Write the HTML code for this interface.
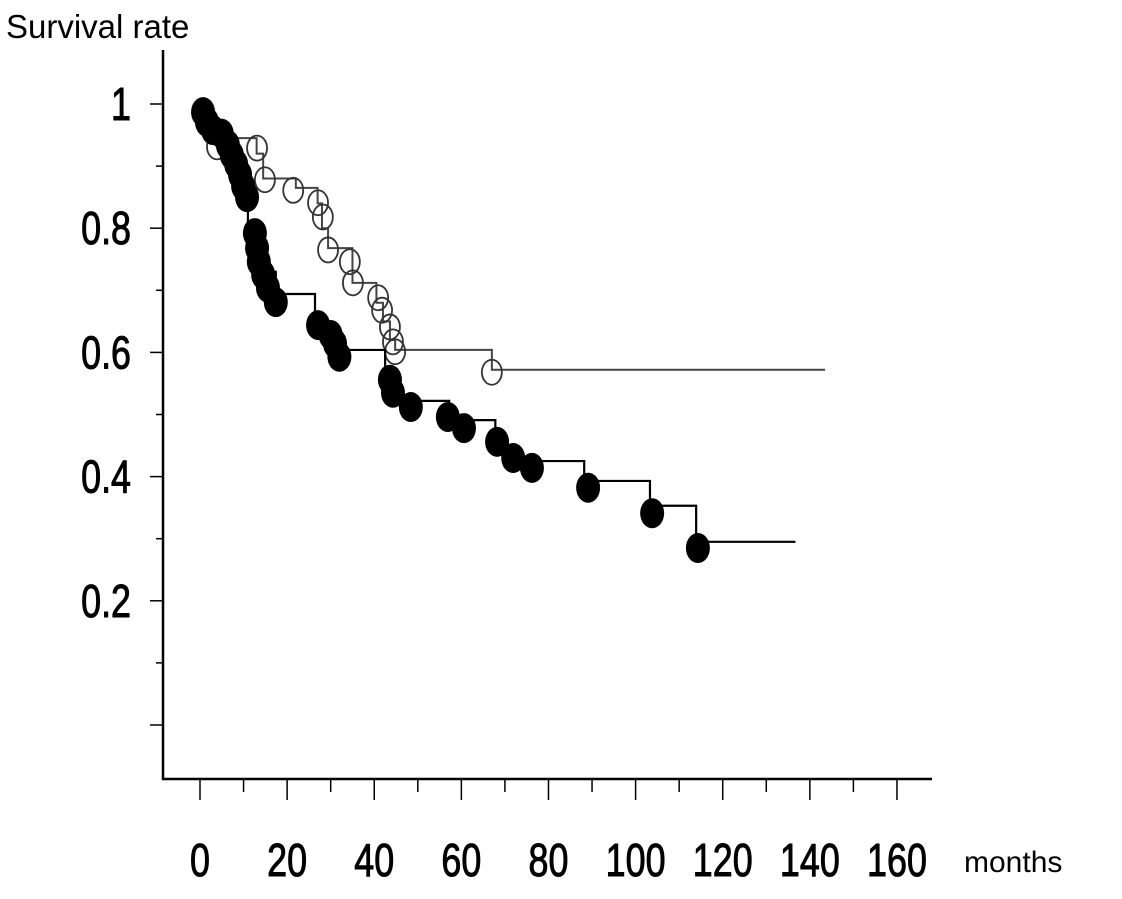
<!DOCTYPE html>
<html><head><meta charset="utf-8"><style>
html,body{margin:0;padding:0;background:#fff;}
svg{display:block;font-family:"Liberation Sans",sans-serif;}
</style></head><body>
<svg id="chart" width="1122" height="899" viewBox="0 0 1122 899" xmlns="http://www.w3.org/2000/svg">
<text x="6" y="38" font-size="33" fill="#000">Survival rate</text>
<text x="964" y="872" font-size="30" fill="#000">months</text>
<g id="axes"></g>
<g id="series"></g>
</svg>
<script>
const xTicks = [0,20,40,60,80,100,120,140,160];
const yTicks = [1,0.8,0.6,0.4,0.2];
const yTickLabels = ["1","0.8","0.6","0.4","0.2"];
// Filled series (step drops)
const fillStepT = [1,4,7,9,11,14,17.4,26.4,32,42.5,46,57.2,67.8,72,88.2,103.3,113.9];
const fillStepS = [0.975,0.95,0.91,0.87,0.8,0.73,0.694,0.63,0.604,0.55,0.522,0.491,0.45,0.425,0.393,0.353,0.295];
const fillEnd = 136.7;
const fillMarkT = [0.7,1.6,3,5,6.4,7.3,8.3,9.2,9.9,10.8,12.6,13.1,13.5,14.5,15.6,17.4,27.1,30,31,32,43.6,44.3,48.4,56.9,60.6,68.2,71.9,76.2,89.1,103.8,114.3];
const fillMarkS = [0.987,0.971,0.958,0.952,0.934,0.918,0.903,0.886,0.868,0.85,0.792,0.768,0.746,0.725,0.704,0.681,0.644,0.628,0.614,0.593,0.556,0.535,0.512,0.496,0.478,0.456,0.43,0.414,0.382,0.341,0.285];
// Open series
const openStepT = [2,4,13,14.5,22,27,28,29.4,35,40.5,42,43.6,44.8,67];
const openStepS = [0.97,0.945,0.92,0.88,0.865,0.84,0.8,0.768,0.712,0.68,0.65,0.62,0.604,0.572];
const openEnd = 143.5;
const openMarkT = [3.9,13.1,14.9,21.4,27.1,28.2,29.4,34.4,35.1,40.9,41.8,43.6,44.3,44.8,67];
const openMarkS = [0.931,0.929,0.878,0.861,0.841,0.818,0.765,0.746,0.712,0.688,0.668,0.641,0.617,0.601,0.568];

const NS="http://www.w3.org/2000/svg";
const X = t => 200 + 4.356*t;
const Y = s => 725 - 621*s;
function mk(tag, attrs, parent){const e=document.createElementNS(NS,tag);for(const k in attrs)e.setAttribute(k,attrs[k]);parent.appendChild(e);return e;}
const axes=document.getElementById('axes'), ser=document.getElementById('series');

let e=mk('line',{x1:163,y1:50,x2:163,y2:780,stroke:'#000','stroke-width':2.5},axes);


e=mk('line',{x1:162,y1:779,x2:932,y2:779,stroke:'#000','stroke-width':2.5},axes);



for(let v=0; v<=160; v+=10){
  const major = v%20===0;
  e=mk('line',{x1:X(v),y1:779,x2:X(v),y2:major?800:792,stroke:'#000','stroke-width':1.5},axes);
  
  
}
xTicks.forEach(v=>{
  const g=mk('g',{transform:`translate(${X(v)},876) scale(0.78,1)`},axes);
  e=mk('text',{x:0,y:0,'text-anchor':'middle','font-size':46,fill:'#000',stroke:'#000','stroke-width':1},g);
  e.textContent=String(v);
  
  
});
for(let i=0;i<=10;i++){
  const v=i/10, major=i%2===0;
  e=mk('line',{x1:major?150:156,y1:Y(v),x2:163,y2:Y(v),stroke:'#000','stroke-width':1.5},axes);
  
  
}
yTicks.forEach((v,i)=>{
  const g=mk('g',{transform:`translate(131,${Y(v)+16}) scale(0.78,1)`},axes);
  e=mk('text',{x:0,y:0,'text-anchor':'end','font-size':46,fill:'#000',stroke:'#000','stroke-width':1},g);
  e.textContent=yTickLabels[i];
  
  
});

function stepPath(T,S,end){
  let d=`M${X(0)},${Y(1)}`, s=1;
  T.forEach((t,i)=>{d+=` L${X(t)},${Y(s)} L${X(t)},${Y(S[i])}`; s=S[i];});
  d+=` L${X(end)},${Y(s)}`;
  return d;
}
e=mk('path',{d:stepPath(openStepT,openStepS,openEnd),fill:'none',stroke:'#444','stroke-width':2},ser);


openMarkT.forEach((t,i)=>{
  e=mk('ellipse',{cx:X(t),cy:Y(openMarkS[i]),rx:10,ry:12.5,fill:'none',stroke:'#333','stroke-width':1.8},ser);
  
  
});
e=mk('path',{d:stepPath(fillStepT,fillStepS,fillEnd),fill:'none',stroke:'#000','stroke-width':2.2},ser);


fillMarkT.forEach((t,i)=>{
  e=mk('ellipse',{cx:X(t),cy:Y(fillMarkS[i]),rx:12,ry:15,fill:'#000'},ser);
  
  
});
</script>
</body></html>
